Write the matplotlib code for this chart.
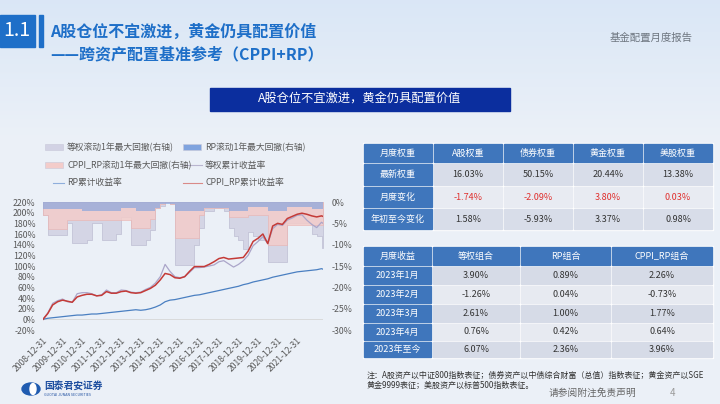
import matplotlib.pyplot as plt
import matplotlib.patches as mpatches
import matplotlib.ticker as mticker
import numpy as np
import pandas as pd

plt.rcParams['font.family'] = ['Noto Sans CJK SC', 'DejaVu Sans']

W, H = 720, 404

# ---- chart data (quarter ends, last point 2023-04-28) ----
dates = list(pd.date_range('2008-12-31', periods=58, freq=pd.offsets.QuarterEnd()))
dates = [d.to_pydatetime() for d in dates] + [pd.Timestamp('2023-04-28').to_pydatetime()]

eq_cum = [0, 12, 30, 35, 38, 33, 32, 48, 50, 50,
          48, 44, 46, 55, 50, 50, 55, 54, 51, 50,
          51, 56, 60, 68, 80, 103, 90, 80, 78, 80,
          88, 97, 97, 98, 100, 102, 108, 110, 104, 98,
          103, 110, 120, 138, 146, 155, 142, 170, 178, 176,
          186, 190, 195, 196, 186, 178, 172, 182, 180]
rp_cum = [0, 2, 3, 4, 5, 6, 7, 8, 8, 9,
          10, 10, 11, 12, 13, 14, 15, 16, 17, 18,
          17, 18, 20, 23, 27, 33, 36, 37, 39, 41,
          43, 45, 46, 48, 50, 52, 54, 56, 58, 60,
          62, 65, 67, 70, 72, 74, 76, 79, 81, 83,
          85, 87, 89, 90, 91, 92, 93, 95, 94]
cppi_cum = [0, 11, 27, 33, 36, 34, 32, 42, 45, 47,
            47, 44, 45, 52, 49, 49, 52, 53, 50, 49,
            50, 54, 58, 64, 74, 86, 84, 78, 77, 80,
            90, 99, 99, 99, 103, 108, 114, 116, 113, 114,
            115, 116, 128, 146, 152, 160, 142, 175, 180, 178,
            189, 193, 197, 199, 197, 194, 192, 194, 193]

eq_dd = [-3, -7.8, -7.8, -7.8, -7.8, -5, -9.7, -9.7, -9.7, -9,
         -5, -5, -9, -9, -9, -7.5, -3.5, -3.5, -10, -10,
         -10, -9, -6.5, -1.5, -1, 0, -0.5, -14.8, -14.8, -14.8,
         -14.8, -10, -6, -2, -2, -1.5, -1.5, -2, -6.2, -8,
         -9, -11, -7, -8, -9, -9, -14, -14, -14, -14,
         -5, -5, -5, -5, -5, -7.5, -8, -10.7, -10.7]
cppi_dd = [-3, -6.3, -6.3, -6.3, -6.3, -4.3, -4.3, -4.3, -4.3, -4.3,
           -4.3, -4.3, -4.3, -4.3, -4.3, -4.3, -4.3, -4.3, -6, -6,
           -6, -6, -4, -1.5, -0.5, 0, -0.5, -8.4, -8.4, -8.4,
           -8.4, -8.4, -3, -1.5, -1.5, -1.5, -1.5, -1.5, -3.5, -3.5,
           -3.5, -3.5, -3, -3, -3, -3, -10, -10, -10, -10,
           -5.5, -5.5, -5.5, -5.5, -5.5, -5.5, -5.5, -5.5, -5.5]
rp_dd = [-1.7, -1.7, -1.7, -1.7, -1.7, -1.7, -1.7, -1.7, -2.2, -2.2,
         -2.2, -2.2, -2.2, -2.2, -2.2, -2.2, -1.4, -1.4, -1.4, -2.2,
         -2.2, -2.2, -2.2, -1.5, -0.4, -0.4, -0.4, -2, -2, -2,
         -2, -2, -2, -1.5, -1.5, -1.5, -1.5, -1.5, -2, -2,
         -2, -2, -1.2, -1.2, -1.2, -1.2, -2.2, -2.2, -2.2, -2.2,
         -1.2, -1.2, -1.2, -1.2, -1.2, -1.6, -1.6, -1.6, -1.6]

tick_years = list(range(2008, 2022))

# ---- table data ----
t1_header = ['月度权重', 'A股权重', '债券权重', '黄金权重', '美股权重']
t1_rows = ['最新权重', '月度变化', '年初至今变化']
latest_w = [16.03, 50.15, 20.44, 13.38]
month_chg = [-1.74, -2.09, 3.80, 0.03]
ytd_chg = [1.58, -5.93, 3.37, 0.98]

t2_header = ['月度收益', '等权组合', 'RP组合', 'CPPI_RP组合']
months = ['2023年1月', '2023年2月', '2023年3月', '2023年4月', '2023年至今']
eq_ret = [3.90, -1.26, 2.61, 0.76, 6.07]
rp_ret = [0.89, 0.04, 1.00, 0.42, 2.36]
cppi_ret = [2.26, -0.73, 1.77, 0.64, 3.96]

BLUE = '#1E6FC8'
HEAD = '#3F76BC'
GRAY_TXT = '#595959'

fig = plt.figure(figsize=(7.2, 4.04), dpi=100)

# pixel canvas for the slide
bg = fig.add_axes([0, 0, 1, 1])
bg.set_xlim(0, W)
bg.set_ylim(H, 0)
bg.axis('off')
top = np.array([0.855, 0.905, 0.965])
bot = np.array([0.925, 0.945, 0.972])
t = np.clip(np.linspace(0, 1, 200) / 0.35, 0, 1)[:, None]
grad = (top * (1 - t) + bot * t)[:, None, :].repeat(2, axis=1)
bg.imshow(grad, aspect='auto', extent=[0, W, H, 0], zorder=0)

# header
bg.add_patch(mpatches.Rectangle((0, 15), 35, 32, color=BLUE, zorder=2))
bg.text(17, 31, '1.1', color='white', fontsize=14, ha='center', va='center', zorder=3)
bg.add_patch(mpatches.Rectangle((39, 15), 3.5, 32, color=BLUE, zorder=2))
bg.text(50, 32, 'A股仓位不宜激进，黄金仍具配置价值', color=BLUE, fontsize=11.5,
        fontweight='bold', ha='left', va='center')
bg.text(50, 54, '——跨资产配置基准参考（CPPI+RP）', color=BLUE, fontsize=11.5,
        fontweight='bold', ha='left', va='center')
bg.text(693, 38, '基金配置月度报告', color='#6E7680', fontsize=7.5, ha='right', va='center')

# banner
bg.add_patch(mpatches.Rectangle((210, 88), 300, 23, color='#0B2E9E', zorder=2))
bg.text(360, 99.5, 'A股仓位不宜激进，黄金仍具配置价值', color='white', fontsize=8.8,
        ha='center', va='center', zorder=3)

# chart legend
c_eq_dd, c_cppi_dd, c_rp_dd = '#D2D2E4', '#F3CCCA', '#8FA8DC'
c_eq, c_rp, c_cppi = '#ABA5C9', '#4A7FC1', '#C43A37'
lg = [(45, 147, 'patch', c_eq_dd, '等权滚动1年最大回撤(右轴)'),
      (183, 147, 'patch', '#7FA3DE', 'RP滚动1年最大回撤(右轴)'),
      (45, 165, 'patch', c_cppi_dd, 'CPPI_RP滚动1年最大回撤(右轴)'),
      (183, 165, 'line', '#B9B5CF', '等权累计收益率'),
      (45, 183, 'line', '#8FAEDC', 'RP累计收益率'),
      (183, 183, 'line', '#D98A88', 'CPPI_RP累计收益率')]
for x, y, kind, col, lab in lg:
    if kind == 'patch':
        bg.add_patch(mpatches.Rectangle((x, y - 3), 18, 6, facecolor=col,
                                        edgecolor='#C8C8D8', lw=0.4, zorder=2))
    else:
        bg.plot([x + (8 if x < 100 else 0), x + 19], [y, y], color=col, lw=0.8, zorder=2)
    bg.text(x + 22, y, lab, color=GRAY_TXT, fontsize=6.3, ha='left', va='center')

# chart
ax = fig.add_axes([43 / W, 1 - 330 / H, 280 / W, 128 / H])
axr = ax.twinx()
ax.set_zorder(axr.get_zorder() + 1)
ax.patch.set_visible(False)
axr.patch.set_visible(False)

axr.fill_between(dates, eq_dd, 0, step='post', facecolor=c_eq_dd, edgecolor='#B9B9CF',
                 lw=0.5, alpha=0.9)
axr.fill_between(dates, cppi_dd, 0, step='post', facecolor=c_cppi_dd, edgecolor='#E9B4B2',
                 lw=0.5, alpha=0.85)
axr.fill_between(dates, rp_dd, 0, step='post', facecolor=c_rp_dd, lw=0, alpha=0.75)
axr.set_ylim(-30, 0)
axr.set_yticks(range(-30, 1, 5))
axr.yaxis.set_major_formatter(mticker.FuncFormatter(lambda v, p: f'{v:.0f}%'))

ax.axhline(0, color='#D6D6D6', lw=0.6, zorder=0)
ax.plot(dates, eq_cum, color=c_eq, lw=0.9)
ax.plot(dates, rp_cum, color=c_rp, lw=0.9)
ax.plot(dates, cppi_cum, color=c_cppi, lw=1.1)
ax.set_ylim(-20, 220)
ax.set_yticks(range(-20, 221, 20))
ax.yaxis.set_major_formatter(mticker.FuncFormatter(lambda v, p: f'{v:.0f}%'))
ax.set_xlim(dates[0], dates[-1])
ax.set_xticks([pd.Timestamp(f'{y}-12-31').to_pydatetime() for y in tick_years])
ax.set_xticklabels([f'{y}-12-31' for y in tick_years], rotation=45, ha='right',
                   rotation_mode='anchor')

for a in (ax, axr):
    for s in a.spines.values():
        s.set_visible(False)
ax.tick_params(axis='y', length=0, pad=5.5, labelsize=6.3, labelcolor=GRAY_TXT)
axr.tick_params(axis='y', length=0, pad=6.5, labelsize=6.3, labelcolor=GRAY_TXT)
ax.tick_params(axis='x', length=0, pad=4, labelsize=6.2, labelcolor=GRAY_TXT)


# tables
def cell(x0, x1, y0, y1, fc, txt, tc, fs=6.5):
    bg.add_patch(mpatches.Rectangle((x0 + 0.8, y0 + 0.8), x1 - x0 - 1.6, y1 - y0 - 1.6,
                                    color=fc, zorder=2))
    bg.text((x0 + x1) / 2, (y0 + y1) / 2, txt, color=tc, fontsize=fs,
            ha='center', va='center', zorder=3)


t1_x = [363, 433, 503, 573, 643, 713]
t1_y = [143, 163, 186, 208, 230]
bg.add_patch(mpatches.Rectangle((363, 143), 350, 87, color='white', zorder=1))
for j, h in enumerate(t1_header):
    cell(t1_x[j], t1_x[j + 1], t1_y[0], t1_y[1], HEAD, h, 'white')
t1_vals = [latest_w, month_chg, ytd_chg]
t1_fill = ['#D8DDE9', '#E8EBF2', '#D8DDE9']
for i, name in enumerate(t1_rows):
    cell(t1_x[0], t1_x[1], t1_y[i + 1], t1_y[i + 2], HEAD, name, 'white')
    for j, v in enumerate(t1_vals[i]):
        tc = '#E0302E' if i == 1 else '#333333'
        cell(t1_x[j + 1], t1_x[j + 2], t1_y[i + 1], t1_y[i + 2], t1_fill[i], f'{v:.2f}%', tc)

t2_x = [363, 432, 520, 611, 713]
t2_y = [246, 266, 285, 304, 323, 341, 358]
bg.add_patch(mpatches.Rectangle((363, 246), 350, 112, color='white', zorder=1))
for j, h in enumerate(t2_header):
    cell(t2_x[j], t2_x[j + 1], t2_y[0], t2_y[1], HEAD, h, 'white')
for i, m in enumerate(months):
    fc = '#D6DBE7' if i % 2 == 0 else '#E7EAF1'
    cell(t2_x[0], t2_x[1], t2_y[i + 1], t2_y[i + 2], HEAD, m, 'white')
    for j, v in enumerate([eq_ret[i], rp_ret[i], cppi_ret[i]]):
        cell(t2_x[j + 1], t2_x[j + 2], t2_y[i + 1], t2_y[i + 2], fc, f'{v:.2f}%', '#333333')

# notes and footer
bg.text(367, 375, '注：A股资产以中证800指数表征；债券资产以中债综合财富（总值）指数表征；黄金资产以SGE',
        color='#333333', fontsize=5.8, ha='left', va='center')
bg.text(367, 385, '黄金9999表征；美股资产以标普500指数表征。',
        color='#333333', fontsize=5.8, ha='left', va='center')
bg.text(592, 393, '请参阅附注免责声明', color='#666666', fontsize=7, ha='center', va='center')
bg.text(673, 393, '4', color='#9A9A9A', fontsize=7, ha='center', va='center')

# logo
bg.add_patch(mpatches.Ellipse((31, 389), 18, 12, color='#1F5BB0', zorder=2))
bg.add_patch(mpatches.Ellipse((33, 389), 6, 11, color='white', zorder=3))
bg.text(44, 387, '国泰君安证券', color='#1F4FA0', fontsize=7, fontweight='bold',
        ha='left', va='center')
bg.text(44, 394.5, 'GUOTAI JUNAN SECURITIES', color='#1F4FA0', fontsize=2.6,
        ha='left', va='center')

fig.savefig('out.png', dpi=100)
